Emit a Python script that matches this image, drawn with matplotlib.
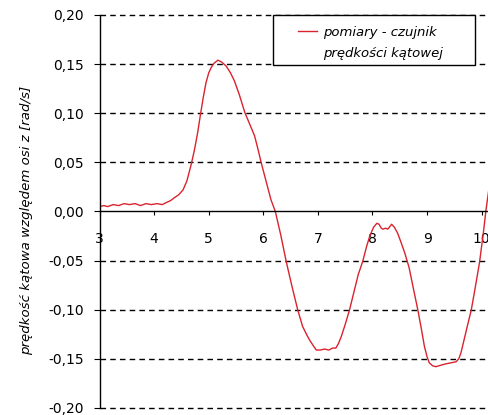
import matplotlib
matplotlib.use("Agg")
import matplotlib.pyplot as plt
import matplotlib.ticker as mticker
from matplotlib.patches import Rectangle
from matplotlib.lines import Line2D

# czas [s] i predkosc katowa [rad/s]
t = [3.00, 3.08, 3.15, 3.25, 3.35, 3.45, 3.55, 3.65, 3.75, 3.85, 3.95, 4.05,
     4.15, 4.22, 4.30, 4.37, 4.45, 4.53, 4.60, 4.68, 4.74, 4.80, 4.85, 4.90,
     4.95, 5.00, 5.05, 5.10, 5.17, 5.24, 5.32, 5.40, 5.47, 5.56, 5.66, 5.75,
     5.84, 5.90, 5.96, 6.05, 6.14, 6.22, 6.32, 6.42, 6.52, 6.63, 6.72, 6.80,
     6.85, 6.92, 6.97, 7.05, 7.12, 7.20, 7.27, 7.33, 7.38, 7.43, 7.50, 7.58,
     7.66, 7.74, 7.82, 7.89, 7.95, 8.02, 8.08, 8.12, 8.16, 8.19, 8.24, 8.28,
     8.35, 8.40, 8.46, 8.52, 8.59, 8.67, 8.74, 8.83, 8.90, 8.95, 9.00, 9.04,
     9.10, 9.16, 9.22, 9.28, 9.35, 9.44, 9.53, 9.58, 9.62, 9.68, 9.74, 9.81,
     9.88, 9.96, 10.03, 10.08, 10.15]
w = [0.005, 0.006, 0.005, 0.007, 0.006, 0.008, 0.007, 0.008, 0.006, 0.008, 0.007,
     0.008, 0.007, 0.009, 0.011, 0.014, 0.017, 0.022, 0.031, 0.048, 0.063, 0.081,
     0.099, 0.116, 0.131, 0.141, 0.147, 0.151, 0.154, 0.152, 0.148, 0.141, 0.133,
     0.119, 0.101, 0.089, 0.077, 0.064, 0.050, 0.031, 0.012, 0.000, -0.024, -0.051,
     -0.075, -0.100, -0.117, -0.126, -0.131, -0.137, -0.141, -0.141, -0.140, -0.141,
     -0.139, -0.139, -0.134, -0.127, -0.115, -0.100, -0.082, -0.064, -0.051, -0.036,
     -0.025, -0.016, -0.012, -0.013, -0.017, -0.018, -0.017, -0.018, -0.013, -0.016,
     -0.022, -0.031, -0.042, -0.057, -0.076, -0.100, -0.121, -0.137, -0.148, -0.154,
     -0.157, -0.158, -0.157, -0.156, -0.155, -0.154, -0.153, -0.150, -0.144, -0.130,
     -0.116, -0.100, -0.078, -0.052, -0.022, 0.002, 0.030]

xticks = [3, 4, 5, 6, 7, 8, 9, 10]
yticks = [-0.20, -0.15, -0.10, -0.05, 0.00, 0.05, 0.10, 0.15, 0.20]
legend_lines = ["pomiary - czujnik", "prędkości kątowej"]

fig = plt.figure(figsize=(4.89, 4.15), dpi=100)
ax = fig.add_axes([0.2035, 0.0169, 0.7965, 0.947])

line, = ax.plot(t, w, color='#d9232e', lw=1.0)

ax.set_xlim(3, 10.134)
ax.set_ylim(-0.20, 0.20)
ax.set_xticks(xticks)
ax.set_yticks(yticks)
ax.yaxis.set_major_formatter(mticker.FuncFormatter(lambda v, p: ("%.2f" % v).replace('.', ',').replace('-0,00', '0,00')))

for y in yticks:
    if y != 0:
        ax.axhline(y, color='black', lw=1.0, ls=(0, (4, 3)), zorder=1, clip_on=False)

ax.spines['top'].set_visible(False)
ax.spines['right'].set_visible(False)
ax.spines['bottom'].set_position(('data', 0))
ax.spines['left'].set_linewidth(1.0)
ax.spines['bottom'].set_linewidth(1.0)
ax.tick_params(axis='x', direction='out', length=3, pad=11.5, labelsize=10)
ax.tick_params(axis='y', direction='out', length=4, pad=7, labelsize=10)

ax.set_ylabel("prędkość kątowa względem osi z [rad/s]", fontstyle='italic', fontsize=9.6)
ax.yaxis.set_label_coords(-0.171, 0.478)

# ramka legendy
ax.add_patch(Rectangle((0.445, 0.873), 0.519, 0.127, transform=ax.transAxes,
                       facecolor='white', edgecolor='black', lw=1.0, zorder=4, clip_on=False))
blank = Line2D([], [], color='none')
leg = ax.legend([line, blank], legend_lines, loc='upper left', bbox_to_anchor=(0.51, 0.973),
                frameon=False, prop={'style': 'italic', 'size': 9.5}, handlelength=1.45,
                handletextpad=0.4, borderpad=0, borderaxespad=0, labelspacing=0.65)
leg.set_zorder(5)

fig.savefig("out.png", dpi=100)
